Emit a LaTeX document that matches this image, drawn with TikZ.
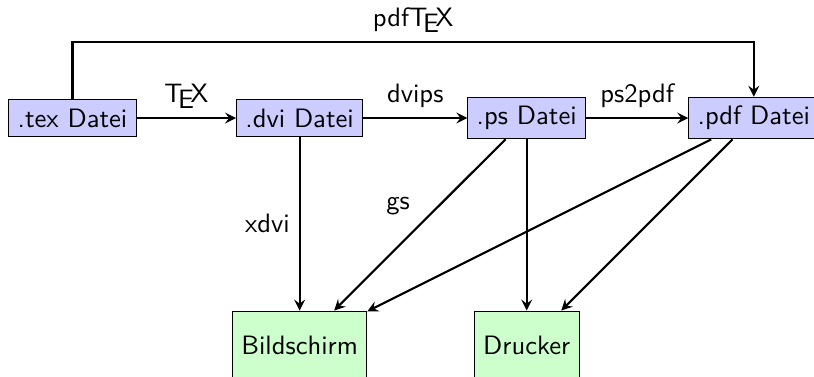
\documentclass[tikz,border=0pt]{standalone}
\usepackage{tikz}
\usetikzlibrary{arrows}
\tikzset{my_chain/.style={>=stealth,font=\sffamily}}
\tikzset{my_edge/.style={->,thick}}
\tikzset{my_file/.style={rectangle, draw, fill=blue!20}}
\tikzset{my_device/.style={rectangle, draw, fill=green!20, minimum height=0.9cm}}

\begin{document}
\begin{tikzpicture}[my_chain]
    \useasboundingbox (-0.958,-3.421) rectangle (9.795,1.559);
    %\draw[help lines] (0,-3) grid (9,1);
    \node[my_file] (tex) at (0,0) {.tex Datei};
    \node[my_file] (dvi) at (3,0) {.dvi Datei};
    \node[my_file] (ps) at (6,0) {.ps Datei};
    \node[my_file] (pdf) at (9,0) {.pdf Datei};
    \node[my_device] (screen) at (3,-3) {Bildschirm};
    \node[my_device] (printer) at (6,-3) {Drucker};
    \coordinate (tex_up) at (0,1);
    \coordinate (pdf_up) at (9,1);

    \path[my_edge]
        (tex) edge node [above] {\TeX} (dvi)
        (dvi) edge node [above] {dvips} (ps)
        (ps) edge node [above] {ps2pdf} (pdf)
        (dvi) edge node [left] {xdvi} (screen)
        (ps) edge node [above left] {gs} (screen)
        (pdf) edge (screen)
        (ps) edge (printer)
        (pdf) edge (printer)
    ;
    \draw[my_edge] (tex) -- (tex_up) -- node [above] {pdf\TeX} (pdf_up) -- (pdf);
\end{tikzpicture}
\end{document}
